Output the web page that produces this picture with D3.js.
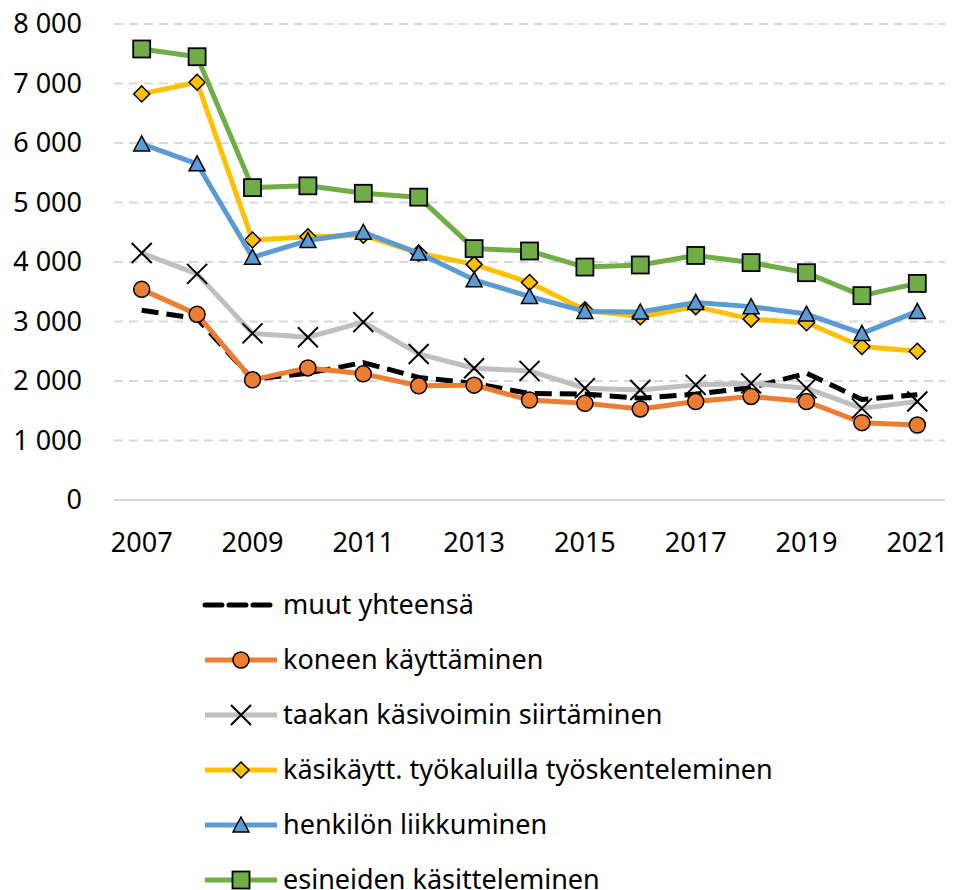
<!DOCTYPE html>
<html>
<head>
<meta charset="utf-8">
<script src="https://cdn.jsdelivr.net/npm/d3@7"></script>
<style>
  html, body { margin: 0; padding: 0; background: #fff; }
  svg { display: block; }
  text { font-family: "Noto Sans", "Open Sans", sans-serif; fill: #000; }
</style>
</head>
<body>
<svg id="chart" width="953" height="890"></svg>
<script>
const years = [2007,2008,2009,2010,2011,2012,2013,2014,2015,2016,2017,2018,2019,2020,2021];
const yTicks = [0,1000,2000,3000,4000,5000,6000,7000,8000];
const xTickLabels = [2007,2009,2011,2013,2015,2017,2019,2021];

const seriesNames = [
  "muut yhteensä",
  "koneen käyttäminen",
  "taakan käsivoimin siirtäminen",
  "käsikäytt. työkaluilla työskenteleminen",
  "henkilön liikkuminen",
  "esineiden käsitteleminen"
];

const muut      = [3190,3050,2030,2130,2310,2060,1960,1790,1780,1710,1780,1890,2130,1690,1770];
const koneen    = [3540,3120,2020,2220,2120,1920,1930,1680,1625,1530,1655,1740,1655,1300,1260];
const taakan    = [4150,3800,2800,2735,2990,2455,2215,2170,1880,1850,1935,1960,1880,1540,1655];
const kasikaytt = [6825,7020,4370,4425,4450,4150,3960,3655,3195,3080,3250,3040,2980,2580,2500];
const henkilon  = [5985,5650,4080,4360,4500,4150,3700,3420,3170,3160,3320,3250,3125,2800,3170];
const esineiden = [7580,7450,5250,5280,5155,5090,4225,4185,3915,3950,4110,3990,3820,3435,3640];

const seriesValues = [muut, koneen, taakan, kasikaytt, henkilon, esineiden];
const seriesColors = ["#000000","#ED7D31","#BFBFBF","#FFC000","#5B9BD5","#70AD47"];
const seriesMarkers = ["none","circle","x","diamond","triangle","square"];

const svg = d3.select("#chart");
const plot = {left: 114, right: 945, top: 24, bottom: 500};
const FS = 27;

const x = d3.scaleBand().domain(years).range([plot.left, plot.right]);
const cx = d => x(d) + x.bandwidth() / 2;
const y = d3.scaleLinear().domain([0, 8000]).range([plot.bottom, plot.top]);

const fi = d3.formatLocale({decimal: ",", thousands: "\u00a0", grouping: [3], currency: ["", ""]});
const fmt = fi.format(",");

// gridlines
const grid = svg.append("g");
grid.selectAll("line").data(yTicks).join("line")
  .attr("x1", plot.left).attr("x2", plot.right)
  .attr("y1", d => y(d)).attr("y2", d => y(d))
  .attr("stroke", "#D9D9D9").attr("stroke-width", 2)
  .attr("stroke-dasharray", d => d === 0 ? null : "9,6");

// y axis labels
const yAxis = d3.axisLeft(y).tickValues(yTicks).tickFormat(fmt).tickSize(0).tickPadding(0);
const ya = svg.append("g").attr("transform", `translate(82,0)`).call(yAxis);
ya.select(".domain").remove();
ya.selectAll("text").attr("font-size", FS).attr("font-family", '"Noto Sans", sans-serif').attr("fill", "#000");

// x axis labels
const xAxis = d3.axisBottom(x).tickValues(xTickLabels).tickSize(0).tickPadding(0);
const xa = svg.append("g").attr("transform", `translate(0,${plot.bottom + 33})`).call(xAxis);
xa.select(".domain").remove();
xa.selectAll("text").attr("font-size", FS).attr("font-family", '"Noto Sans", sans-serif').attr("fill", "#000");

function drawMarker(g, type, color, px, py) {
  if (type === "circle") {
    g.append("circle").attr("cx", px).attr("cy", py).attr("r", 8)
      .attr("fill", color).attr("stroke", "#000").attr("stroke-width", 1.5);
  } else if (type === "square") {
    g.append("rect").attr("x", px - 8.5).attr("y", py - 8.5).attr("width", 17).attr("height", 17)
      .attr("fill", color).attr("stroke", "#000").attr("stroke-width", 1.8);
  } else if (type === "diamond") {
    const s = 8;
    g.append("path").attr("d", `M${px},${py - s}L${px + s},${py}L${px},${py + s}L${px - s},${py}Z`)
      .attr("fill", color).attr("stroke", "#000").attr("stroke-width", 1.5);
  } else if (type === "triangle") {
    const s = 8;
    g.append("path").attr("d", `M${px},${py - s}L${px + s},${py + s - 1}L${px - s},${py + s - 1}Z`)
      .attr("fill", color).attr("stroke", "#000").attr("stroke-width", 1.5);
  } else if (type === "x") {
    const s = 10;
    g.append("path").attr("d", `M${px - s},${py - s}L${px + s},${py + s}M${px + s},${py - s}L${px - s},${py + s}`)
      .attr("stroke", "#000").attr("stroke-width", 2).attr("fill", "none");
  }
}

const line = d3.line().x((d, i) => cx(years[i])).y(d => y(d));

seriesValues.forEach((vals, si) => {
  const g = svg.append("g");
  g.append("path").datum(vals).attr("d", line)
    .attr("fill", "none").attr("stroke", seriesColors[si]).attr("stroke-width", 5)
    .attr("stroke-linejoin", "round")
    .attr("stroke-dasharray", si === 0 ? "17,8" : null);
  vals.forEach((v, i) => drawMarker(g, seriesMarkers[si], seriesColors[si], cx(years[i]), y(v)));
});

// legend
const legend = svg.append("g");
seriesNames.forEach((name, i) => {
  const ly = 605 + i * 55;
  const g = legend.append("g");
  g.append("line").attr("x1", 205).attr("x2", 277).attr("y1", ly).attr("y2", ly)
    .attr("stroke", seriesColors[i]).attr("stroke-width", 5)
    .attr("stroke-dasharray", i === 0 ? "17,7" : null)
    .attr("stroke-linecap", i === 0 ? "round" : "butt");
  drawMarker(g, seriesMarkers[i], seriesColors[i], 241, ly);
  g.append("text").attr("x", 283).attr("y", ly).attr("dy", "0.35em")
    .attr("font-size", FS).text(name);
});
</script>
</body>
</html>
